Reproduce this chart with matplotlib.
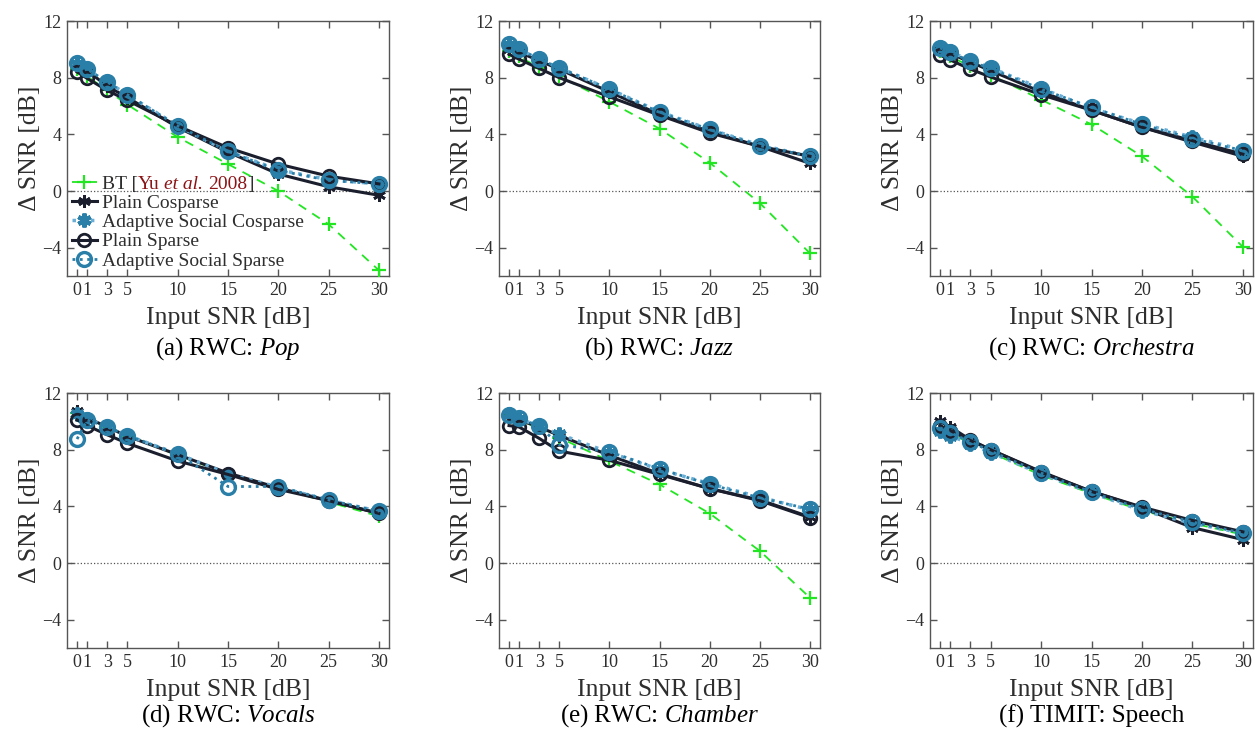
import matplotlib
matplotlib.use("Agg")
import matplotlib.pyplot as plt

plt.rcParams['font.family'] = ['Liberation Serif', 'DejaVu Serif']
plt.rcParams['mathtext.fontset'] = 'custom'
plt.rcParams['mathtext.rm'] = 'Liberation Serif'
plt.rcParams['mathtext.it'] = 'Liberation Serif:italic'

# ---------------- data ----------------
input_snr = [0, 1, 3, 5, 10, 15, 20, 25, 30]
x_ticks = [0, 1, 3, 5, 10, 15, 20, 25, 30]
y_ticks = [-4, 0, 4, 8, 12]

series_names = ["BT [", "Plain Cosparse", "Adaptive Social Cosparse",
                "Plain Sparse", "Adaptive Social Sparse"]

captions = [r"(a) RWC: $\mathit{Pop}$", r"(b) RWC: $\mathit{Jazz}$",
            r"(c) RWC: $\mathit{Orchestra}$", r"(d) RWC: $\mathit{Vocals}$",
            r"(e) RWC: $\mathit{Chamber}$", "(f) TIMIT: Speech"]

pop_bt = [8.6, 8.1, 7.1, 6.1, 3.8, 1.9, 0.0, -2.35, -5.6]
pop_plain_cosparse = [8.9, 8.5, 7.4, 6.6, 4.5, 2.75, 1.2, 0.3, -0.3]
pop_adaptive_cosparse = [9.0, 8.6, 7.7, 6.8, 4.6, 2.8, 1.5, 0.8, 0.5]
pop_plain_sparse = [8.4, 7.95, 7.1, 6.4, 4.6, 3.05, 1.9, 1.05, 0.5]
pop_adaptive_sparse = [9.05, 8.6, 7.7, 6.8, 4.6, 2.8, 1.45, 0.75, 0.5]

jazz_bt = [9.9, 9.5, 8.7, 8.1, 6.3, 4.4, 2.0, -0.85, -4.4]
jazz_plain_cosparse = [10.0, 9.8, 9.2, 8.6, 7.0, 5.4, 4.2, 3.15, 1.95]
jazz_adaptive_cosparse = [10.3, 10.0, 9.3, 8.7, 7.2, 5.6, 4.35, 3.25, 2.45]
jazz_plain_sparse = [9.65, 9.3, 8.65, 8.0, 6.65, 5.35, 4.1, 3.15, 2.45]
jazz_adaptive_sparse = [10.35, 10.05, 9.3, 8.7, 7.2, 5.55, 4.35, 3.2, 2.45]

orch_bt = [9.9, 9.5, 8.8, 8.2, 6.45, 4.7, 2.45, -0.4, -3.95]
orch_plain_cosparse = [10.0, 9.7, 9.1, 8.5, 7.0, 5.7, 4.5, 3.45, 2.45]
orch_adaptive_cosparse = [10.15, 9.85, 9.2, 8.7, 7.25, 5.85, 4.75, 3.8, 2.9]
orch_plain_sparse = [9.6, 9.25, 8.6, 8.05, 6.8, 5.7, 4.5, 3.55, 2.6]
orch_adaptive_sparse = [10.1, 9.8, 9.15, 8.65, 7.2, 5.9, 4.7, 3.7, 2.85]

vocals_bt = [10.6, 10.2, 9.6, 9.0, 7.6, 6.3, 5.3, 4.3, 3.3]
vocals_plain_cosparse = [10.7, 10.25, 9.6, 8.95, 7.65, 6.35, 5.3, 4.4, 3.5]
vocals_adaptive_cosparse = [10.5, 10.2, 9.6, 9.0, 7.7, 6.3, 5.35, 4.45, 3.65]
vocals_plain_sparse = [10.1, 9.7, 9.05, 8.45, 7.2, 6.25, 5.2, 4.4, 3.5]
vocals_adaptive_sparse = [8.75, 10.1, 9.6, 9.0, 7.7, 5.4, 5.4, 4.45, 3.65]

chamber_bt = [10.5, 10.1, 9.5, 8.85, 7.2, 5.55, 3.5, 0.85, -2.45]
chamber_plain_cosparse = [10.6, 10.1, 9.6, 9.0, 7.6, 6.3, 5.25, 4.45, 3.25]
chamber_adaptive_cosparse = [10.5, 10.2, 9.65, 9.1, 7.8, 6.6, 5.6, 4.65, 3.75]
chamber_plain_sparse = [9.7, 9.6, 8.8, 7.9, 7.25, 6.25, 5.25, 4.4, 3.2]
chamber_adaptive_sparse = [10.45, 10.25, 9.65, 8.35, 7.85, 6.65, 5.55, 4.6, 3.8]

speech_bt = [9.4, 9.1, 8.5, 7.8, 6.2, 4.9, 3.7, 2.8, 2.0]
speech_plain_cosparse = [10.0, 9.6, 8.7, 8.0, 6.45, 5.05, 3.9, 2.5, 1.65]
speech_adaptive_cosparse = [9.3, 9.0, 8.4, 7.8, 6.3, 4.95, 3.7, 2.8, 2.1]
speech_plain_sparse = [9.7, 9.35, 8.65, 8.0, 6.4, 5.05, 3.95, 3.0, 2.2]
speech_adaptive_sparse = [9.55, 9.2, 8.55, 7.9, 6.35, 5.0, 3.8, 2.9, 2.1]

panels = [
    [pop_bt, pop_plain_cosparse, pop_adaptive_cosparse, pop_plain_sparse, pop_adaptive_sparse],
    [jazz_bt, jazz_plain_cosparse, jazz_adaptive_cosparse, jazz_plain_sparse, jazz_adaptive_sparse],
    [orch_bt, orch_plain_cosparse, orch_adaptive_cosparse, orch_plain_sparse, orch_adaptive_sparse],
    [vocals_bt, vocals_plain_cosparse, vocals_adaptive_cosparse, vocals_plain_sparse, vocals_adaptive_sparse],
    [chamber_bt, chamber_plain_cosparse, chamber_adaptive_cosparse, chamber_plain_sparse, chamber_adaptive_sparse],
    [speech_bt, speech_plain_cosparse, speech_adaptive_cosparse, speech_plain_sparse, speech_adaptive_sparse],
]

# ---------------- styles ----------------
GREEN = "#22e622"
NAVY = "#1b1f2d"
BLUE = "#2a7fa8"
BLUE_LIGHT = "#6aaed6"
TEXT = "#2e2e2e"
RED = "#8b1416"
ASTER = (6, 2, 0)

styles = [
    dict(color=GREEN, ls=(0, (5, 4)), lw=1.3, marker='+', ms=10, mew=1.6, mec=GREEN),
    dict(color=NAVY, ls='-', lw=2.2, marker=ASTER, ms=9, mew=2.0, mec=NAVY),
    dict(color=BLUE_LIGHT, ls=':', lw=2.5, marker=ASTER, ms=10, mew=3.0, mec=BLUE),
    dict(color=NAVY, ls='-', lw=2.2, marker='o', ms=9, mew=2.0, mec=NAVY, mfc='none'),
    dict(color=BLUE, ls=':', lw=2.0, marker='o', ms=10, mew=2.4, mec=BLUE, mfc='none'),
]

W, H = 1255, 733
fig = plt.figure(figsize=(W / 100, H / 100), dpi=100)

col_lefts = [67, 499, 930]
col_rights = [389, 820, 1253]
row_tops = [21, 393]
row_bottoms = [276, 648]
caption_y = [349, 716]

axes = []
for i in range(6):
    r, c = divmod(i, 3)
    l = col_lefts[c] / W
    b = 1 - row_bottoms[r] / H
    w = (col_rights[c] - col_lefts[c]) / W
    h = (row_bottoms[r] - row_tops[r]) / H
    ax = fig.add_axes([l, b, w, h])
    axes.append(ax)
    ax.axhline(0, color="#555555", ls=':', lw=0.9, zorder=1)
    for vals, st, name in zip(panels[i], styles, series_names):
        ax.plot(input_snr, vals, label=name, zorder=3, **st)
    ax.set_xlim(-1, 31)
    ax.set_ylim(-6, 12)
    ax.set_xticks(x_ticks)
    ax.set_yticks(y_ticks)
    ax.set_yticklabels([("\u2212%d" % -v) if v < 0 else str(v) for v in y_ticks])
    ax.tick_params(direction='in', length=5, width=1, top=True, right=True,
                   labelsize=13, colors="#555555", labelcolor=TEXT, pad=4)
    for sp in ax.spines.values():
        sp.set_color("#555555")
        sp.set_linewidth(1.0)
    ax.set_xlabel("Input SNR [dB]", fontsize=18.5, color=TEXT, labelpad=6)
    ax.set_ylabel("\u0394 SNR [dB]", fontsize=18.5, color=TEXT, labelpad=1)
    cx = (col_lefts[c] + col_rights[c]) / 2 / W
    fig.text(cx, 1 - caption_y[r] / H, captions[i], fontsize=18, color="black",
             ha='center', va='center')

# legend in panel (a)
ax0 = axes[0]
LFS = 14
leg = ax0.legend(loc='upper left', bbox_to_anchor=(0.015, 0.395), frameon=False,
                 fontsize=LFS, handlelength=1.3, handletextpad=0.25,
                 labelspacing=0.08, borderpad=0, borderaxespad=0)
leg.set_zorder(5)
for t in leg.get_texts():
    t.set_color(TEXT)

bt_text = leg.get_texts()[0]
common = dict(textcoords='offset points', fontsize=LFS, ha='left', va='bottom',
              annotation_clip=False, zorder=20)
a1 = ax0.annotate("Yu", xy=(1, 0), xycoords=bt_text, xytext=(0, 0),
                  color=RED, **common)
a2 = ax0.annotate("et al.", xy=(1, 0), xycoords=a1, xytext=(3.4, 0),
                  color=RED, style='italic', **common)
a3 = ax0.annotate("2008", xy=(1, 0), xycoords=a2, xytext=(3.4, 0),
                  color=RED, **common)
a4 = ax0.annotate("]", xy=(1, 0), xycoords=a3, xytext=(0, 0),
                  color=TEXT, **common)

fig.savefig("out.png", dpi=100)
